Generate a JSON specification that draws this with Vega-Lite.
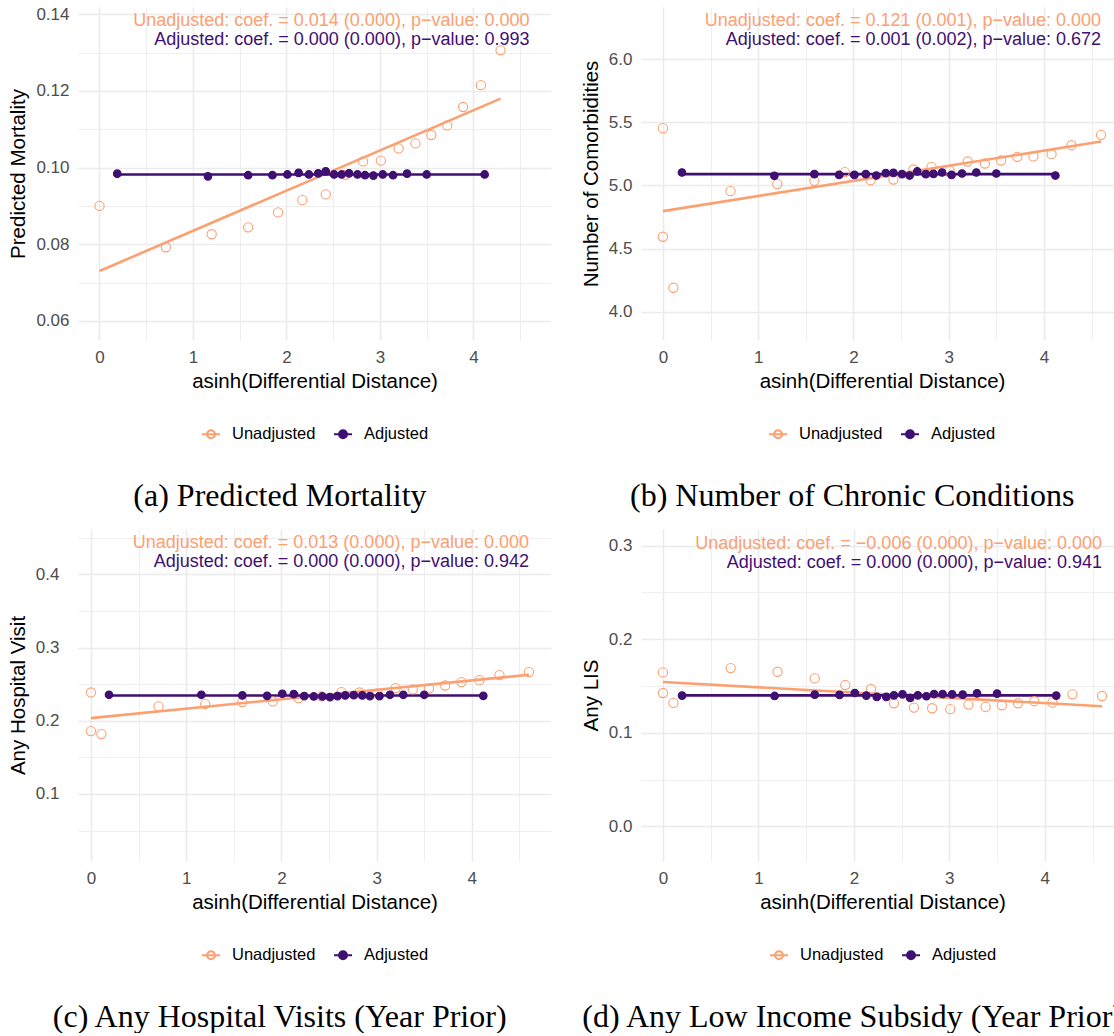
{
  "$schema": "https://vega.github.io/schema/vega-lite/v6.json",
  "padding": {"left": 8, "top": 5, "right": 0, "bottom": 0},
  "background": "white",
  "datasets": {
    "mort": [
      {"kind": "note", "series": "Unadjusted", "label": "Unadjusted: coef. = 0.014 (0.000), p−value: 0.000"},
      {"kind": "note", "series": "Adjusted", "label": "Adjusted: coef. = 0.000 (0.000), p−value: 0.993"},
      {"kind": "bin", "series": "Unadjusted", "x": 0, "y": 0.0900},
      {"kind": "bin", "series": "Unadjusted", "x": 0.71, "y": 0.0792},
      {"kind": "bin", "series": "Unadjusted", "x": 1.20, "y": 0.0826},
      {"kind": "bin", "series": "Unadjusted", "x": 1.59, "y": 0.0844},
      {"kind": "bin", "series": "Unadjusted", "x": 1.91, "y": 0.0883},
      {"kind": "bin", "series": "Unadjusted", "x": 2.17, "y": 0.0915},
      {"kind": "bin", "series": "Unadjusted", "x": 2.42, "y": 0.0930},
      {"kind": "bin", "series": "Unadjusted", "x": 2.63, "y": 0.0981},
      {"kind": "bin", "series": "Unadjusted", "x": 2.82, "y": 0.1016},
      {"kind": "bin", "series": "Unadjusted", "x": 3.01, "y": 0.1018},
      {"kind": "bin", "series": "Unadjusted", "x": 3.20, "y": 0.1050},
      {"kind": "bin", "series": "Unadjusted", "x": 3.38, "y": 0.1063},
      {"kind": "bin", "series": "Unadjusted", "x": 3.55, "y": 0.1085},
      {"kind": "bin", "series": "Unadjusted", "x": 3.72, "y": 0.1110},
      {"kind": "bin", "series": "Unadjusted", "x": 3.89, "y": 0.1158},
      {"kind": "bin", "series": "Unadjusted", "x": 4.08, "y": 0.1215},
      {"kind": "bin", "series": "Unadjusted", "x": 4.29, "y": 0.1306},
      {"kind": "fit", "series": "Unadjusted", "x": 0, "y": 0.0730},
      {"kind": "fit", "series": "Unadjusted", "x": 4.29, "y": 0.1180},
      {"kind": "bin", "series": "Adjusted", "x": 0.19, "y": 0.0984},
      {"kind": "bin", "series": "Adjusted", "x": 1.16, "y": 0.0977},
      {"kind": "bin", "series": "Adjusted", "x": 1.59, "y": 0.0980},
      {"kind": "bin", "series": "Adjusted", "x": 1.85, "y": 0.0980},
      {"kind": "bin", "series": "Adjusted", "x": 2.01, "y": 0.0982},
      {"kind": "bin", "series": "Adjusted", "x": 2.13, "y": 0.0986},
      {"kind": "bin", "series": "Adjusted", "x": 2.24, "y": 0.0982},
      {"kind": "bin", "series": "Adjusted", "x": 2.34, "y": 0.0985},
      {"kind": "bin", "series": "Adjusted", "x": 2.42, "y": 0.0990},
      {"kind": "bin", "series": "Adjusted", "x": 2.51, "y": 0.0982},
      {"kind": "bin", "series": "Adjusted", "x": 2.59, "y": 0.0982},
      {"kind": "bin", "series": "Adjusted", "x": 2.67, "y": 0.0985},
      {"kind": "bin", "series": "Adjusted", "x": 2.76, "y": 0.0982},
      {"kind": "bin", "series": "Adjusted", "x": 2.84, "y": 0.0980},
      {"kind": "bin", "series": "Adjusted", "x": 2.93, "y": 0.0979},
      {"kind": "bin", "series": "Adjusted", "x": 3.03, "y": 0.0982},
      {"kind": "bin", "series": "Adjusted", "x": 3.14, "y": 0.0980},
      {"kind": "bin", "series": "Adjusted", "x": 3.29, "y": 0.0984},
      {"kind": "bin", "series": "Adjusted", "x": 3.50, "y": 0.0982},
      {"kind": "bin", "series": "Adjusted", "x": 4.12, "y": 0.0982},
      {"kind": "fit", "series": "Adjusted", "x": 0.19, "y": 0.0982},
      {"kind": "fit", "series": "Adjusted", "x": 4.12, "y": 0.0982}
    ],
    "comorb": [
      {"kind": "note", "series": "Unadjusted", "label": "Unadjusted: coef. = 0.121 (0.001), p−value: 0.000"},
      {"kind": "note", "series": "Adjusted", "label": "Adjusted: coef. = 0.001 (0.002), p−value: 0.672"},
      {"kind": "bin", "series": "Unadjusted", "x": 0, "y": 5.454},
      {"kind": "bin", "series": "Unadjusted", "x": 0, "y": 4.594},
      {"kind": "bin", "series": "Unadjusted", "x": 0.11, "y": 4.190},
      {"kind": "bin", "series": "Unadjusted", "x": 0.71, "y": 4.955},
      {"kind": "bin", "series": "Unadjusted", "x": 1.20, "y": 5.011},
      {"kind": "bin", "series": "Unadjusted", "x": 1.59, "y": 5.037},
      {"kind": "bin", "series": "Unadjusted", "x": 1.91, "y": 5.106},
      {"kind": "bin", "series": "Unadjusted", "x": 2.18, "y": 5.042},
      {"kind": "bin", "series": "Unadjusted", "x": 2.42, "y": 5.047},
      {"kind": "bin", "series": "Unadjusted", "x": 2.63, "y": 5.127},
      {"kind": "bin", "series": "Unadjusted", "x": 2.82, "y": 5.148},
      {"kind": "bin", "series": "Unadjusted", "x": 3.01, "y": 5.119},
      {"kind": "bin", "series": "Unadjusted", "x": 3.20, "y": 5.190},
      {"kind": "bin", "series": "Unadjusted", "x": 3.38, "y": 5.174},
      {"kind": "bin", "series": "Unadjusted", "x": 3.55, "y": 5.198},
      {"kind": "bin", "series": "Unadjusted", "x": 3.72, "y": 5.227},
      {"kind": "bin", "series": "Unadjusted", "x": 3.89, "y": 5.230},
      {"kind": "bin", "series": "Unadjusted", "x": 4.08, "y": 5.248},
      {"kind": "bin", "series": "Unadjusted", "x": 4.29, "y": 5.319},
      {"kind": "bin", "series": "Unadjusted", "x": 4.60, "y": 5.401},
      {"kind": "fit", "series": "Unadjusted", "x": 0, "y": 4.797},
      {"kind": "fit", "series": "Unadjusted", "x": 4.60, "y": 5.348},
      {"kind": "bin", "series": "Adjusted", "x": 0.20, "y": 5.103},
      {"kind": "bin", "series": "Adjusted", "x": 1.17, "y": 5.077},
      {"kind": "bin", "series": "Adjusted", "x": 1.59, "y": 5.090},
      {"kind": "bin", "series": "Adjusted", "x": 1.85, "y": 5.084},
      {"kind": "bin", "series": "Adjusted", "x": 2.01, "y": 5.084},
      {"kind": "bin", "series": "Adjusted", "x": 2.13, "y": 5.090},
      {"kind": "bin", "series": "Adjusted", "x": 2.24, "y": 5.079},
      {"kind": "bin", "series": "Adjusted", "x": 2.34, "y": 5.098},
      {"kind": "bin", "series": "Adjusted", "x": 2.42, "y": 5.100},
      {"kind": "bin", "series": "Adjusted", "x": 2.51, "y": 5.090},
      {"kind": "bin", "series": "Adjusted", "x": 2.59, "y": 5.079},
      {"kind": "bin", "series": "Adjusted", "x": 2.67, "y": 5.111},
      {"kind": "bin", "series": "Adjusted", "x": 2.76, "y": 5.090},
      {"kind": "bin", "series": "Adjusted", "x": 2.84, "y": 5.092},
      {"kind": "bin", "series": "Adjusted", "x": 2.93, "y": 5.103},
      {"kind": "bin", "series": "Adjusted", "x": 3.03, "y": 5.084},
      {"kind": "bin", "series": "Adjusted", "x": 3.14, "y": 5.095},
      {"kind": "bin", "series": "Adjusted", "x": 3.29, "y": 5.103},
      {"kind": "bin", "series": "Adjusted", "x": 3.50, "y": 5.095},
      {"kind": "bin", "series": "Adjusted", "x": 4.12, "y": 5.079},
      {"kind": "fit", "series": "Adjusted", "x": 0.20, "y": 5.090},
      {"kind": "fit", "series": "Adjusted", "x": 4.12, "y": 5.090}
    ],
    "hosp": [
      {"kind": "note", "series": "Unadjusted", "label": "Unadjusted: coef. = 0.013 (0.000), p−value: 0.000"},
      {"kind": "note", "series": "Adjusted", "label": "Adjusted: coef. = 0.000 (0.000), p−value: 0.942"},
      {"kind": "bin", "series": "Unadjusted", "x": 0, "y": 0.2387},
      {"kind": "bin", "series": "Unadjusted", "x": 0, "y": 0.1859},
      {"kind": "bin", "series": "Unadjusted", "x": 0.11, "y": 0.1818},
      {"kind": "bin", "series": "Unadjusted", "x": 0.71, "y": 0.2196},
      {"kind": "bin", "series": "Unadjusted", "x": 1.20, "y": 0.2228},
      {"kind": "bin", "series": "Unadjusted", "x": 1.59, "y": 0.2255},
      {"kind": "bin", "series": "Unadjusted", "x": 1.91, "y": 0.2264},
      {"kind": "bin", "series": "Unadjusted", "x": 2.18, "y": 0.2310},
      {"kind": "bin", "series": "Unadjusted", "x": 2.42, "y": 0.2332},
      {"kind": "bin", "series": "Unadjusted", "x": 2.63, "y": 0.2391},
      {"kind": "bin", "series": "Unadjusted", "x": 2.82, "y": 0.2387},
      {"kind": "bin", "series": "Unadjusted", "x": 3.01, "y": 0.2375},
      {"kind": "bin", "series": "Unadjusted", "x": 3.20, "y": 0.2446},
      {"kind": "bin", "series": "Unadjusted", "x": 3.38, "y": 0.2428},
      {"kind": "bin", "series": "Unadjusted", "x": 3.55, "y": 0.2441},
      {"kind": "bin", "series": "Unadjusted", "x": 3.72, "y": 0.2482},
      {"kind": "bin", "series": "Unadjusted", "x": 3.89, "y": 0.2528},
      {"kind": "bin", "series": "Unadjusted", "x": 4.08, "y": 0.2555},
      {"kind": "bin", "series": "Unadjusted", "x": 4.29, "y": 0.2624},
      {"kind": "bin", "series": "Unadjusted", "x": 4.60, "y": 0.2665},
      {"kind": "fit", "series": "Unadjusted", "x": 0, "y": 0.2036},
      {"kind": "fit", "series": "Unadjusted", "x": 4.60, "y": 0.2628},
      {"kind": "bin", "series": "Adjusted", "x": 0.19, "y": 0.2355},
      {"kind": "bin", "series": "Adjusted", "x": 1.16, "y": 0.2355},
      {"kind": "bin", "series": "Adjusted", "x": 1.59, "y": 0.2346},
      {"kind": "bin", "series": "Adjusted", "x": 1.85, "y": 0.2341},
      {"kind": "bin", "series": "Adjusted", "x": 2.01, "y": 0.2369},
      {"kind": "bin", "series": "Adjusted", "x": 2.13, "y": 0.2364},
      {"kind": "bin", "series": "Adjusted", "x": 2.24, "y": 0.2337},
      {"kind": "bin", "series": "Adjusted", "x": 2.34, "y": 0.2332},
      {"kind": "bin", "series": "Adjusted", "x": 2.43, "y": 0.2332},
      {"kind": "bin", "series": "Adjusted", "x": 2.51, "y": 0.2323},
      {"kind": "bin", "series": "Adjusted", "x": 2.59, "y": 0.2337},
      {"kind": "bin", "series": "Adjusted", "x": 2.67, "y": 0.2346},
      {"kind": "bin", "series": "Adjusted", "x": 2.76, "y": 0.2350},
      {"kind": "bin", "series": "Adjusted", "x": 2.85, "y": 0.2346},
      {"kind": "bin", "series": "Adjusted", "x": 2.93, "y": 0.2337},
      {"kind": "bin", "series": "Adjusted", "x": 3.03, "y": 0.2337},
      {"kind": "bin", "series": "Adjusted", "x": 3.14, "y": 0.2355},
      {"kind": "bin", "series": "Adjusted", "x": 3.28, "y": 0.2355},
      {"kind": "bin", "series": "Adjusted", "x": 3.50, "y": 0.2355},
      {"kind": "bin", "series": "Adjusted", "x": 4.12, "y": 0.2341},
      {"kind": "fit", "series": "Adjusted", "x": 0.19, "y": 0.2346},
      {"kind": "fit", "series": "Adjusted", "x": 4.12, "y": 0.2346}
    ],
    "lis": [
      {"kind": "note", "series": "Unadjusted", "label": "Unadjusted: coef. = −0.006 (0.000), p−value: 0.000"},
      {"kind": "note", "series": "Adjusted", "label": "Adjusted: coef. = 0.000 (0.000), p−value: 0.941"},
      {"kind": "bin", "series": "Unadjusted", "x": 0, "y": 0.1645},
      {"kind": "bin", "series": "Unadjusted", "x": 0, "y": 0.1425},
      {"kind": "bin", "series": "Unadjusted", "x": 0.11, "y": 0.1319},
      {"kind": "bin", "series": "Unadjusted", "x": 0.71, "y": 0.1691},
      {"kind": "bin", "series": "Unadjusted", "x": 1.20, "y": 0.1652},
      {"kind": "bin", "series": "Unadjusted", "x": 1.59, "y": 0.1581},
      {"kind": "bin", "series": "Unadjusted", "x": 1.91, "y": 0.1510},
      {"kind": "bin", "series": "Unadjusted", "x": 2.18, "y": 0.1468},
      {"kind": "bin", "series": "Unadjusted", "x": 2.42, "y": 0.1315},
      {"kind": "bin", "series": "Unadjusted", "x": 2.63, "y": 0.1269},
      {"kind": "bin", "series": "Unadjusted", "x": 2.82, "y": 0.1262},
      {"kind": "bin", "series": "Unadjusted", "x": 3.01, "y": 0.1252},
      {"kind": "bin", "series": "Unadjusted", "x": 3.20, "y": 0.1301},
      {"kind": "bin", "series": "Unadjusted", "x": 3.38, "y": 0.1276},
      {"kind": "bin", "series": "Unadjusted", "x": 3.55, "y": 0.1294},
      {"kind": "bin", "series": "Unadjusted", "x": 3.72, "y": 0.1315},
      {"kind": "bin", "series": "Unadjusted", "x": 3.89, "y": 0.1337},
      {"kind": "bin", "series": "Unadjusted", "x": 4.08, "y": 0.1322},
      {"kind": "bin", "series": "Unadjusted", "x": 4.29, "y": 0.1411},
      {"kind": "bin", "series": "Unadjusted", "x": 4.60, "y": 0.1393},
      {"kind": "fit", "series": "Unadjusted", "x": 0, "y": 0.1542},
      {"kind": "fit", "series": "Unadjusted", "x": 4.60, "y": 0.1283},
      {"kind": "bin", "series": "Adjusted", "x": 0.20, "y": 0.1397},
      {"kind": "bin", "series": "Adjusted", "x": 1.17, "y": 0.1393},
      {"kind": "bin", "series": "Adjusted", "x": 1.59, "y": 0.1407},
      {"kind": "bin", "series": "Adjusted", "x": 1.85, "y": 0.1404},
      {"kind": "bin", "series": "Adjusted", "x": 2.01, "y": 0.1425},
      {"kind": "bin", "series": "Adjusted", "x": 2.13, "y": 0.1397},
      {"kind": "bin", "series": "Adjusted", "x": 2.24, "y": 0.1383},
      {"kind": "bin", "series": "Adjusted", "x": 2.34, "y": 0.1383},
      {"kind": "bin", "series": "Adjusted", "x": 2.42, "y": 0.1400},
      {"kind": "bin", "series": "Adjusted", "x": 2.51, "y": 0.1411},
      {"kind": "bin", "series": "Adjusted", "x": 2.59, "y": 0.1372},
      {"kind": "bin", "series": "Adjusted", "x": 2.67, "y": 0.1400},
      {"kind": "bin", "series": "Adjusted", "x": 2.76, "y": 0.1390},
      {"kind": "bin", "series": "Adjusted", "x": 2.84, "y": 0.1414},
      {"kind": "bin", "series": "Adjusted", "x": 2.93, "y": 0.1414},
      {"kind": "bin", "series": "Adjusted", "x": 3.03, "y": 0.1411},
      {"kind": "bin", "series": "Adjusted", "x": 3.14, "y": 0.1407},
      {"kind": "bin", "series": "Adjusted", "x": 3.29, "y": 0.1421},
      {"kind": "bin", "series": "Adjusted", "x": 3.50, "y": 0.1418},
      {"kind": "bin", "series": "Adjusted", "x": 4.12, "y": 0.1397},
      {"kind": "fit", "series": "Adjusted", "x": 0.20, "y": 0.1400},
      {"kind": "fit", "series": "Adjusted", "x": 4.12, "y": 0.1400}
    ]
  },
  "columns": 2,
  "align": "none",
  "spacing": {"row": 17, "column": 30},
  "concat": [
    {
      "width": 473, "height": 333,
      "data": {"name": "mort"},
      "title": "(a) Predicted Mortality",
      "layer": [
        {"transform": [{"filter": "datum.kind === 'fit' && datum.series === 'Unadjusted'"}],
         "mark": {"type": "line", "color": "#FCA072", "strokeWidth": 2.6},
         "encoding": {
           "x": {"field": "x", "type": "quantitative", "scale": {"domain": [-0.23, 4.83], "nice": false, "zero": false},
                 "axis": {"title": "asinh(Differential Distance)", "values": [0, 0.5, 1, 1.5, 2, 2.5, 3, 3.5, 4, 4.5],
                          "labelExpr": "datum.value % 1 === 0 ? format(datum.value, 'd') : ''",
                          "gridWidth": {"condition": {"test": "datum.value % 1 === 0", "value": 1.6}, "value": 0.8}}},
           "y": {"field": "y", "type": "quantitative", "scale": {"domain": [0.055, 0.1419], "nice": false, "zero": false},
                 "axis": {"title": "Predicted Mortality", "values": [0.06, 0.07, 0.08, 0.09, 0.1, 0.11, 0.12, 0.13, 0.14],
                          "labelExpr": "abs(round(datum.value*50) - datum.value*50) < 0.001 ? format(datum.value, '.2f') : ''",
                          "gridWidth": {"condition": {"test": "abs(round(datum.value*50) - datum.value*50) < 0.001", "value": 1.6}, "value": 0.8}}}}},
        {"transform": [{"filter": "datum.kind === 'fit' && datum.series === 'Adjusted'"}],
         "mark": {"type": "line", "color": "#3F0F72", "strokeWidth": 2.6},
         "encoding": {"x": {"field": "x", "type": "quantitative", "title": "asinh(Differential Distance)"}, "y": {"field": "y", "type": "quantitative", "title": "Predicted Mortality"}}},
        {"transform": [{"filter": "datum.kind === 'bin'"}],
         "mark": {"type": "point", "filled": true, "strokeWidth": 1.1, "opacity": 1},
         "encoding": {
           "x": {"field": "x", "type": "quantitative", "title": "asinh(Differential Distance)"}, "y": {"field": "y", "type": "quantitative", "title": "Predicted Mortality"},
           "fill": {"field": "series", "type": "nominal", "scale": {"domain": ["Unadjusted", "Adjusted"], "range": ["transparent", "#3F0F72"]}},
           "stroke": {"field": "series", "type": "nominal", "scale": {"domain": ["Unadjusted", "Adjusted"], "range": ["#FCA072", "#3F0F72"]}},
           "size": {"condition": {"test": "datum.series === 'Adjusted'", "value": 58}, "value": 85}}},
        {"transform": [{"filter": "datum.kind === 'note' && datum.series === 'Unadjusted'"}],
         "mark": {"type": "text", "align": "right", "baseline": "middle", "fontSize": 18, "font": "Liberation Sans", "color": "#FCA072"},
         "encoding": {"x": {"datum": 4.6}, "y": {"datum": 0.13825}, "text": {"field": "label"}}},
        {"transform": [{"filter": "datum.kind === 'note' && datum.series === 'Adjusted'"}],
         "mark": {"type": "text", "align": "right", "baseline": "middle", "fontSize": 18, "font": "Liberation Sans", "color": "#3F0F72"},
         "encoding": {"x": {"datum": 4.6}, "y": {"datum": 0.1333}, "text": {"field": "label"}}}
      ]
    },
    {
      "width": 482, "height": 333,
      "data": {"name": "comorb"},
      "title": "(b) Number of Chronic Conditions",
      "layer": [
        {"transform": [{"filter": "datum.kind === 'fit' && datum.series === 'Unadjusted'"}],
         "mark": {"type": "line", "color": "#FCA072", "strokeWidth": 2.6},
         "encoding": {
           "x": {"field": "x", "type": "quantitative", "scale": {"domain": [-0.23, 4.83], "nice": false, "zero": false},
                 "axis": {"title": "asinh(Differential Distance)", "values": [0, 0.5, 1, 1.5, 2, 2.5, 3, 3.5, 4, 4.5],
                          "labelExpr": "datum.value % 1 === 0 ? format(datum.value, 'd') : ''",
                          "gridWidth": {"condition": {"test": "datum.value % 1 === 0", "value": 1.6}, "value": 0.8}}},
           "y": {"field": "y", "type": "quantitative", "scale": {"domain": [3.776, 6.414], "nice": false, "zero": false},
                 "axis": {"title": "Number of Comorbidities", "values": [4, 4.25, 4.5, 4.75, 5, 5.25, 5.5, 5.75, 6, 6.25],
                          "labelExpr": "(datum.value*2) % 1 === 0 ? format(datum.value, '.1f') : ''",
                          "gridWidth": {"condition": {"test": "(datum.value*2) % 1 === 0", "value": 1.6}, "value": 0.8}}}}},
        {"transform": [{"filter": "datum.kind === 'fit' && datum.series === 'Adjusted'"}],
         "mark": {"type": "line", "color": "#3F0F72", "strokeWidth": 2.6},
         "encoding": {"x": {"field": "x", "type": "quantitative", "title": "asinh(Differential Distance)"}, "y": {"field": "y", "type": "quantitative", "title": "Number of Comorbidities"}}},
        {"transform": [{"filter": "datum.kind === 'bin'"}],
         "mark": {"type": "point", "filled": true, "strokeWidth": 1.1, "opacity": 1},
         "encoding": {
           "x": {"field": "x", "type": "quantitative", "title": "asinh(Differential Distance)"}, "y": {"field": "y", "type": "quantitative", "title": "Number of Comorbidities"},
           "fill": {"field": "series", "type": "nominal", "scale": {"domain": ["Unadjusted", "Adjusted"], "range": ["transparent", "#3F0F72"]}},
           "stroke": {"field": "series", "type": "nominal", "scale": {"domain": ["Unadjusted", "Adjusted"], "range": ["#FCA072", "#3F0F72"]}},
           "size": {"condition": {"test": "datum.series === 'Adjusted'", "value": 58}, "value": 85}}},
        {"transform": [{"filter": "datum.kind === 'note' && datum.series === 'Unadjusted'"}],
         "mark": {"type": "text", "align": "right", "baseline": "middle", "fontSize": 18, "font": "Liberation Sans", "color": "#FCA072"},
         "encoding": {"x": {"datum": 4.6}, "y": {"datum": 6.303}, "text": {"field": "label"}}},
        {"transform": [{"filter": "datum.kind === 'note' && datum.series === 'Adjusted'"}],
         "mark": {"type": "text", "align": "right", "baseline": "middle", "fontSize": 18, "font": "Liberation Sans", "color": "#3F0F72"},
         "encoding": {"x": {"datum": 4.6}, "y": {"datum": 6.153}, "text": {"field": "label"}}}
      ]
    },
    {
      "width": 473, "height": 332,
      "data": {"name": "hosp"},
      "title": "(c) Any Hospital Visits (Year Prior)",
      "layer": [
        {"transform": [{"filter": "datum.kind === 'fit' && datum.series === 'Unadjusted'"}],
         "mark": {"type": "line", "color": "#FCA072", "strokeWidth": 2.6},
         "encoding": {
           "x": {"field": "x", "type": "quantitative", "scale": {"domain": [-0.1355, 4.831], "nice": false, "zero": false},
                 "axis": {"title": "asinh(Differential Distance)", "values": [0, 0.5, 1, 1.5, 2, 2.5, 3, 3.5, 4, 4.5],
                          "labelExpr": "datum.value % 1 === 0 ? format(datum.value, 'd') : ''",
                          "gridWidth": {"condition": {"test": "datum.value % 1 === 0", "value": 1.6}, "value": 0.8}}},
           "y": {"field": "y", "type": "quantitative", "scale": {"domain": [0.0085, 0.4619], "nice": false, "zero": false},
                 "axis": {"title": "Any Hospital Visit", "values": [0.05, 0.1, 0.15, 0.2, 0.25, 0.3, 0.35, 0.4, 0.45], "labelPadding": 19,
                          "labelExpr": "abs(round(datum.value*10) - datum.value*10) < 0.001 ? format(datum.value, '.1f') : ''",
                          "gridWidth": {"condition": {"test": "abs(round(datum.value*10) - datum.value*10) < 0.001", "value": 1.6}, "value": 0.8}}}}},
        {"transform": [{"filter": "datum.kind === 'fit' && datum.series === 'Adjusted'"}],
         "mark": {"type": "line", "color": "#3F0F72", "strokeWidth": 2.6},
         "encoding": {"x": {"field": "x", "type": "quantitative", "title": "asinh(Differential Distance)"}, "y": {"field": "y", "type": "quantitative", "title": "Any Hospital Visit"}}},
        {"transform": [{"filter": "datum.kind === 'bin'"}],
         "mark": {"type": "point", "filled": true, "strokeWidth": 1.1, "opacity": 1},
         "encoding": {
           "x": {"field": "x", "type": "quantitative", "title": "asinh(Differential Distance)"}, "y": {"field": "y", "type": "quantitative", "title": "Any Hospital Visit"},
           "fill": {"field": "series", "type": "nominal", "scale": {"domain": ["Unadjusted", "Adjusted"], "range": ["transparent", "#3F0F72"]}},
           "stroke": {"field": "series", "type": "nominal", "scale": {"domain": ["Unadjusted", "Adjusted"], "range": ["#FCA072", "#3F0F72"]}},
           "size": {"condition": {"test": "datum.series === 'Adjusted'", "value": 58}, "value": 85}}},
        {"transform": [{"filter": "datum.kind === 'note' && datum.series === 'Unadjusted'"}],
         "mark": {"type": "text", "align": "right", "baseline": "middle", "fontSize": 18, "font": "Liberation Sans", "color": "#FCA072"},
         "encoding": {"x": {"datum": 4.6}, "y": {"datum": 0.4427}, "text": {"field": "label"}}},
        {"transform": [{"filter": "datum.kind === 'note' && datum.series === 'Adjusted'"}],
         "mark": {"type": "text", "align": "right", "baseline": "middle", "fontSize": 18, "font": "Liberation Sans", "color": "#3F0F72"},
         "encoding": {"x": {"datum": 4.6}, "y": {"datum": 0.4168}, "text": {"field": "label"}}}
      ]
    },
    {
      "width": 483, "height": 332,
      "data": {"name": "lis"},
      "title": "(d) Any Low Income Subsidy (Year Prior)",
      "layer": [
        {"transform": [{"filter": "datum.kind === 'fit' && datum.series === 'Unadjusted'"}],
         "mark": {"type": "line", "color": "#FCA072", "strokeWidth": 2.6},
         "encoding": {
           "x": {"field": "x", "type": "quantitative", "scale": {"domain": [-0.23, 4.83], "nice": false, "zero": false},
                 "axis": {"title": "asinh(Differential Distance)", "values": [0, 0.5, 1, 1.5, 2, 2.5, 3, 3.5, 4, 4.5],
                          "labelExpr": "datum.value % 1 === 0 ? format(datum.value, 'd') : ''",
                          "gridWidth": {"condition": {"test": "datum.value % 1 === 0", "value": 1.6}, "value": 0.8}}},
           "y": {"field": "y", "type": "quantitative", "scale": {"domain": [-0.037, 0.3177], "nice": false, "zero": false},
                 "axis": {"title": "Any LIS", "values": [0, 0.05, 0.1, 0.15, 0.2, 0.25, 0.3],
                          "labelExpr": "abs(round(datum.value*10) - datum.value*10) < 0.001 ? format(datum.value, '.1f') : ''",
                          "gridWidth": {"condition": {"test": "abs(round(datum.value*10) - datum.value*10) < 0.001", "value": 1.6}, "value": 0.8}}}}},
        {"transform": [{"filter": "datum.kind === 'fit' && datum.series === 'Adjusted'"}],
         "mark": {"type": "line", "color": "#3F0F72", "strokeWidth": 2.6},
         "encoding": {"x": {"field": "x", "type": "quantitative", "title": "asinh(Differential Distance)"}, "y": {"field": "y", "type": "quantitative", "title": "Any LIS"}}},
        {"transform": [{"filter": "datum.kind === 'bin'"}],
         "mark": {"type": "point", "filled": true, "strokeWidth": 1.1, "opacity": 1},
         "encoding": {
           "x": {"field": "x", "type": "quantitative", "title": "asinh(Differential Distance)"}, "y": {"field": "y", "type": "quantitative", "title": "Any LIS"},
           "fill": {"field": "series", "type": "nominal", "scale": {"domain": ["Unadjusted", "Adjusted"], "range": ["transparent", "#3F0F72"]}},
           "stroke": {"field": "series", "type": "nominal", "scale": {"domain": ["Unadjusted", "Adjusted"], "range": ["#FCA072", "#3F0F72"]}},
           "size": {"condition": {"test": "datum.series === 'Adjusted'", "value": 58}, "value": 85}}},
        {"transform": [{"filter": "datum.kind === 'note' && datum.series === 'Unadjusted'"}],
         "mark": {"type": "text", "align": "right", "baseline": "middle", "fontSize": 18, "font": "Liberation Sans", "color": "#FCA072"},
         "encoding": {"x": {"datum": 4.6}, "y": {"datum": 0.3018}, "text": {"field": "label"}}},
        {"transform": [{"filter": "datum.kind === 'note' && datum.series === 'Adjusted'"}],
         "mark": {"type": "text", "align": "right", "baseline": "middle", "fontSize": 18, "font": "Liberation Sans", "color": "#3F0F72"},
         "encoding": {"x": {"datum": 4.6}, "y": {"datum": 0.2816}, "text": {"field": "label"}}}
      ]
    }
  ],
  "resolve": {"legend": {"fill": "independent", "stroke": "independent"}, "scale": {"fill": "independent", "stroke": "independent"}},
  "config": {
    "view": {"stroke": null},
    "axis": {
      "domain": false, "ticks": false, "gridColor": "#EBEBEB",
      "labelFont": "Liberation Sans", "labelFontSize": 17, "labelColor": "#4D4D4D", "labelPadding": 9,
      "titleFont": "Liberation Sans", "titleFontSize": 20.5, "titleFontWeight": "normal", "titleColor": "#000000", "titlePadding": 6
    },
    "axisY": {"titlePadding": 7},
    "legend": {
      "orient": "bottom", "direction": "horizontal", "title": null,
      "labelFont": "Liberation Sans", "labelFontSize": 16.5, "labelColor": "#000000",
      "symbolType": "M-1,0L1,0M0.44,0A0.44,0.44,0,1,1,-0.44,0A0.44,0.44,0,1,1,0.44,0Z",
      "symbolSize": 324, "symbolStrokeWidth": 2, "labelOffset": 11, "columnPadding": 14, "offset": 32,
      "layout": {"bottom": {"anchor": "middle"}}
    },
    "title": {
      "orient": "bottom", "anchor": "middle", "frame": "bounds", "font": "Liberation Serif", "fontSize": 32, "fontWeight": "normal",
      "color": "#000000", "offset": 38
    }
  }
}
